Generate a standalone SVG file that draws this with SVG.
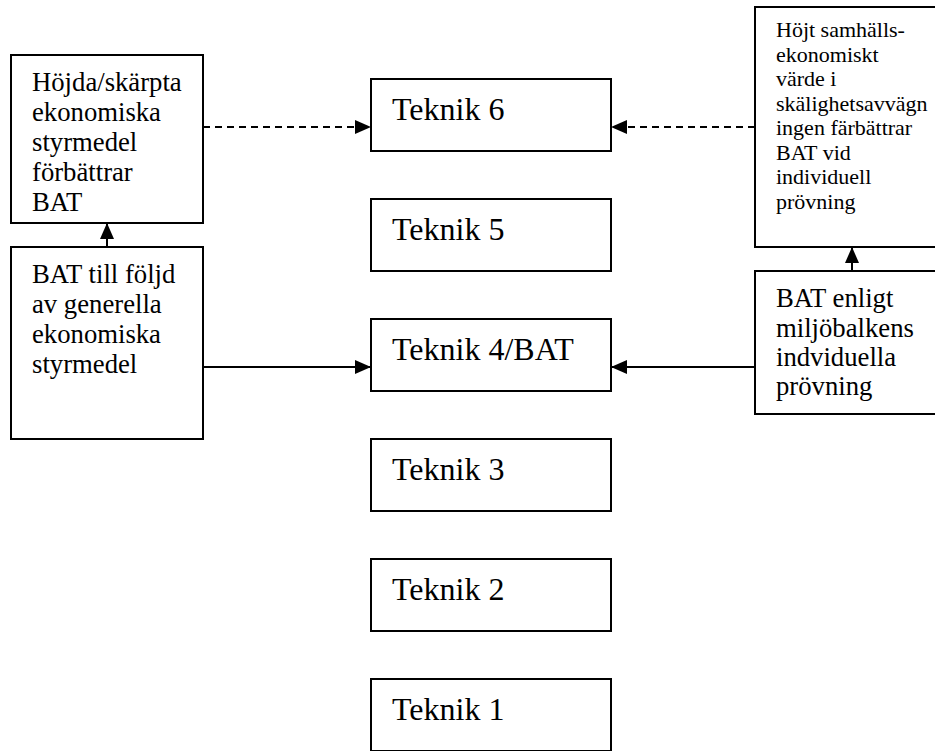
<svg xmlns="http://www.w3.org/2000/svg" width="935" height="751" viewBox="0 0 935 751">
<style>
  .box{fill:#fff;stroke:#000;stroke-width:2}
  text{font-family:'Liberation Serif','Times New Roman',Times,'Noto Serif','DejaVu Serif',serif;fill:#000}
  .big{font-size:32px}
  .mid{font-size:26.7px}
  .sm{font-size:22px}
  .ln{stroke:#000;stroke-width:2;fill:none}
  .dash{stroke-dasharray:7 5}
</style>
<defs>
  <marker id="ah" viewBox="0 0 16 14" refX="16" refY="7" markerWidth="16" markerHeight="14" markerUnits="userSpaceOnUse" orient="auto">
    <path d="M0,0 L16,7 L0,14 Z" fill="#000"/>
  </marker>
</defs>
<rect width="935" height="751" fill="#fff"/>
<g id="connectors">
  <line class="ln dash" x1="203" y1="127" x2="371" y2="127" marker-end="url(#ah)"/>
  <line class="ln dash" x1="755" y1="127" x2="611" y2="127" marker-end="url(#ah)"/>
  <line class="ln" x1="203" y1="367" x2="371" y2="367" marker-end="url(#ah)"/>
  <line class="ln" x1="755" y1="367" x2="611" y2="367" marker-end="url(#ah)"/>
  <line class="ln" x1="107" y1="247" x2="107" y2="223" marker-end="url(#ah)"/>
  <line class="ln" x1="852" y1="271" x2="852" y2="247" marker-end="url(#ah)"/>
</g>
<g id="hojda">
  <rect class="box" x="11" y="55" width="192" height="168"/>
  <text class="mid" x="32" y="91" font-family="Liberation Serif, serif">Höjda/skärpta</text>
  <text class="mid" x="32" y="121" font-family="Liberation Serif, serif">ekonomiska</text>
  <text class="mid" x="32" y="151" font-family="Liberation Serif, serif">styrmedel</text>
  <text class="mid" x="32" y="181" font-family="Liberation Serif, serif">förbättrar</text>
  <text class="mid" x="32" y="211" font-family="Liberation Serif, serif">BAT</text>
</g>
<g id="generella">
  <rect class="box" x="11" y="247" width="192" height="192"/>
  <text class="mid" x="32" y="283">BAT till följd</text>
  <text class="mid" x="32" y="313">av generella</text>
  <text class="mid" x="32" y="343">ekonomiska</text>
  <text class="mid" x="32" y="373">styrmedel</text>
</g>
<g id="teknik6">
  <rect class="box" x="371" y="79" width="240" height="72"/>
  <text class="big" x="392" y="120">Teknik 6</text>
</g>
<g id="teknik5">
  <rect class="box" x="371" y="199" width="240" height="72"/>
  <text class="big" x="392" y="240">Teknik 5</text>
</g>
<g id="teknik4">
  <rect class="box" x="371" y="319" width="240" height="72"/>
  <text class="big" x="392" y="360">Teknik 4/BAT</text>
</g>
<g id="teknik3">
  <rect class="box" x="371" y="439" width="240" height="72"/>
  <text class="big" x="392" y="480">Teknik 3</text>
</g>
<g id="teknik2">
  <rect class="box" x="371" y="559" width="240" height="72"/>
  <text class="big" x="392" y="600">Teknik 2</text>
</g>
<g id="teknik1">
  <rect class="box" x="371" y="679" width="240" height="72"/>
  <text class="big" x="392" y="720">Teknik 1</text>
</g>
<g id="hojt">
  <rect class="box" x="755" y="7" width="200" height="240"/>
  <text class="sm" x="776" y="37">Höjt samhälls-</text>
  <text class="sm" x="776" y="61.5">ekonomiskt</text>
  <text class="sm" x="776" y="86">värde i</text>
  <text class="sm" x="776" y="110.5">skälighetsavvägn</text>
  <text class="sm" x="776" y="135">ingen färbättrar</text>
  <text class="sm" x="776" y="159.5">BAT vid</text>
  <text class="sm" x="776" y="184">individuell</text>
  <text class="sm" x="776" y="208.5">prövning</text>
</g>
<g id="enligt">
  <rect class="box" x="755" y="271" width="200" height="143"/>
  <text class="mid" x="776" y="307">BAT enligt</text>
  <text class="mid" x="776" y="337">miljöbalkens</text>
  <text class="mid" x="776" y="366">indviduella</text>
  <text class="mid" x="776" y="395">prövning</text>
</g>
</svg>
